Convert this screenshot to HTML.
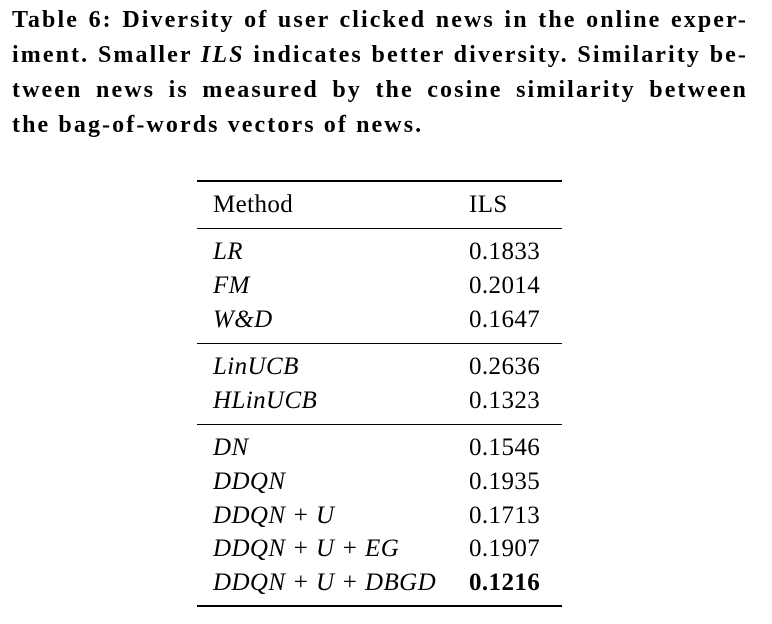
<!DOCTYPE html>
<html><head><meta charset="utf-8"><style>
body{margin:0;background:#fff;width:772px;height:624px;position:relative;overflow:hidden;font-family:"Liberation Serif",serif;color:#000}
.c{position:absolute;left:12px;width:736px;font-weight:bold;font-size:24px;line-height:24px;letter-spacing:2.1px;text-align:justify;text-align-last:justify;white-space:nowrap}
.c.l{text-align-last:left;width:auto}
.t{position:absolute;font-size:25px;line-height:25px;white-space:nowrap;letter-spacing:0.4px}
.m{left:213px;font-style:italic}
.v{left:469px}
.r{position:absolute;left:197px;width:365px;background:#000}
</style></head><body>
<div class="c" style="top:8px">Table 6: Diversity of user clicked news in the online exper-</div>
<div class="c" style="top:43px">iment. Smaller <i>ILS</i> indicates better diversity. Similarity be-</div>
<div class="c" style="top:78px">tween news is measured by the cosine similarity between</div>
<div class="c l" style="top:113px">the bag-of-words vectors of news.</div>

<div class="r" style="top:180px;height:2px"></div>
<div class="t" style="left:213px;top:192px">Method</div>
<div class="t v" style="top:192px">ILS</div>
<div class="r" style="top:228px;height:1px"></div>
<div class="t m" style="top:239px">LR</div><div class="t v" style="top:239px">0.1833</div>
<div class="t m" style="top:273px">FM</div><div class="t v" style="top:273px">0.2014</div>
<div class="t m" style="top:307px">W&amp;D</div><div class="t v" style="top:307px">0.1647</div>
<div class="r" style="top:343px;height:1px"></div>
<div class="t m" style="top:354px">LinUCB</div><div class="t v" style="top:354px">0.2636</div>
<div class="t m" style="top:388px">HLinUCB</div><div class="t v" style="top:388px">0.1323</div>
<div class="r" style="top:424px;height:1px"></div>
<div class="t m" style="top:435px">DN</div><div class="t v" style="top:435px">0.1546</div>
<div class="t m" style="top:469px">DDQN</div><div class="t v" style="top:469px">0.1935</div>
<div class="t m" style="top:503px">DDQN + U</div><div class="t v" style="top:503px">0.1713</div>
<div class="t m" style="top:536px">DDQN + U + EG</div><div class="t v" style="top:536px">0.1907</div>
<div class="t m" style="top:570px">DDQN + U + DBGD</div><div class="t v" style="top:570px;font-weight:bold">0.1216</div>
<div class="r" style="top:605px;height:2px"></div>
</body></html>
